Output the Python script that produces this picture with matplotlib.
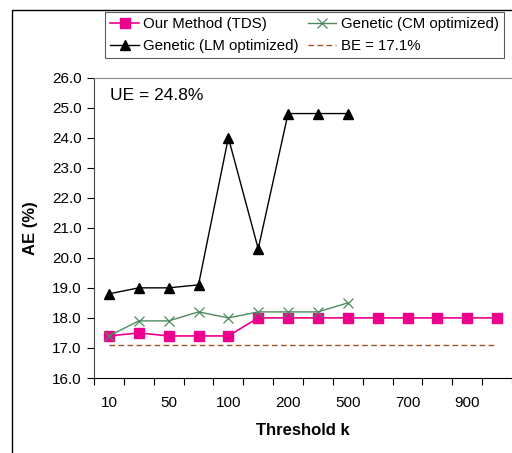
import matplotlib
matplotlib.use("Agg")
import matplotlib.pyplot as plt
from matplotlib.patches import Rectangle

categories = ["10", "30", "50", "70", "100", "150", "200", "300", "500", "600", "700", "800", "900", "1000"]
shown_labels = ["10", "", "50", "", "100", "", "200", "", "500", "", "700", "", "900", ""]
tds = [17.4, 17.5, 17.4, 17.4, 17.4, 18.0, 18.0, 18.0, 18.0, 18.0, 18.0, 18.0, 18.0, 18.0]
cm_opt = [17.4, 17.9, 17.9, 18.2, 18.0, 18.2, 18.2, 18.2, 18.5]
lm_opt = [18.8, 19.0, 19.0, 19.1, 24.0, 20.3, 24.8, 24.8, 24.8]
be = 17.1
ue_text = "UE = 24.8%"

plt.rcParams['font.family'] = ['Liberation Sans', 'DejaVu Sans']
fig = plt.figure(figsize=(5.12, 4.53), dpi=100)
ax = fig.add_axes([94/512, 1-378/453, 1.0-94/512, (378-77.5)/453])

x_all = list(range(len(categories)))
h_tds, = ax.plot(x_all, tds, color='#EC008C', marker='s', markersize=6.5, lw=1.2,
                 label='Our Method (TDS)', zorder=4)
h_cm, = ax.plot(x_all[:len(cm_opt)], cm_opt, color='#4E8A60', marker='x', markersize=7,
                markeredgewidth=0.9, lw=1.0, label='Genetic (CM optimized)', zorder=5)
h_lm, = ax.plot(x_all[:len(lm_opt)], lm_opt, color='black', marker='^', markersize=7,
                lw=1.0, label='Genetic (LM optimized)', zorder=3)
h_be, = ax.plot([x_all[0], x_all[-1]], [be, be], color='#A0522D', lw=1.0, ls=(0, (4, 2.5)),
                label='BE = 17.1%', zorder=2)

ax.set_xlim(-0.5, len(categories) - 0.5)
ax.set_ylim(16.0, 26.0)
ax.set_yticks([16 + i for i in range(11)])
ax.set_yticklabels([f"{16 + i:.1f}" for i in range(11)], fontsize=11)
ax.set_xticks(x_all)
ax.set_xticklabels(shown_labels, fontsize=11)
ax.set_xticks([i - 0.5 for i in range(len(categories) + 1)], minor=True)
ax.tick_params(axis='x', which='major', length=0, pad=13)
ax.tick_params(axis='x', which='minor', length=5, direction='out', width=0.8)
ax.tick_params(axis='y', length=5, direction='out', width=0.8, pad=4)

ax.spines['right'].set_visible(False)
ax.spines['top'].set_color('#888888')
ax.spines['left'].set_color('#444444')
ax.spines['bottom'].set_color('black')

ax.set_xlabel('Threshold k', fontsize=12, fontweight='bold', labelpad=9)
ax.set_ylabel('AE (%)', fontsize=12, fontweight='bold', labelpad=10)

ax.text(0.038, 0.965, ue_text, transform=ax.transAxes, fontsize=12.5, va='top', ha='left')

leg = fig.legend([h_tds, h_lm, h_cm, h_be],
                 [h.get_label() for h in [h_tds, h_lm, h_cm, h_be]],
                 ncol=2, loc='upper left', bbox_to_anchor=(105/512, 1-12/453),
                 fontsize=10.8, frameon=True, fancybox=False, edgecolor='#333333',
                 borderpad=0.35, handlelength=1.9, handletextpad=0.3,
                 columnspacing=0.6, labelspacing=0.5, borderaxespad=0)
leg.get_frame().set_linewidth(0.8)

fig.patches.append(Rectangle((12/512, -0.02), 1.0, 1-10/453 + 0.02,
                             transform=fig.transFigure, fill=False,
                             edgecolor='black', lw=1.0))

fig.savefig('out.png', dpi=100)
